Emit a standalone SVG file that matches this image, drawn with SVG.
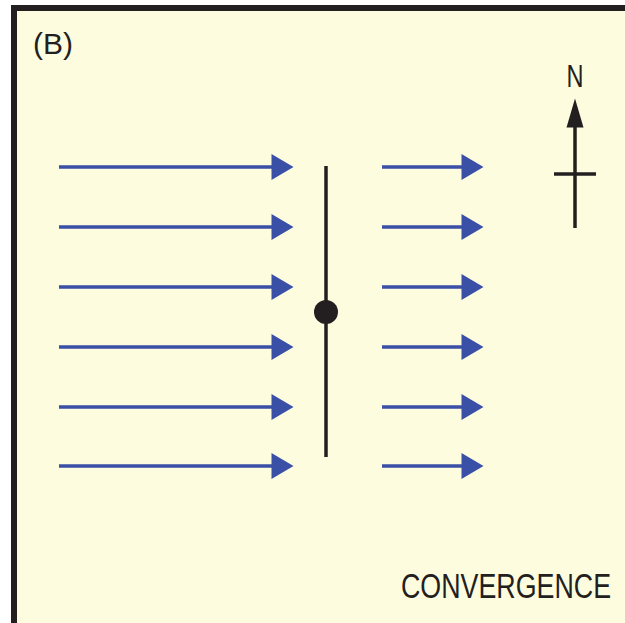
<svg xmlns="http://www.w3.org/2000/svg" width="625" height="623" viewBox="0 0 625 623">
<defs>
<style>
.flow{stroke:#3A4FA6;stroke-width:3.5;fill:none}
.blk{stroke:#231F20;stroke-width:3.5;fill:none}
.lbl{font-family:"Liberation Sans",Arial,sans-serif;fill:#231F20}
</style>
<marker id="ah" markerUnits="userSpaceOnUse" markerWidth="24" markerHeight="26" refX="0.5" refY="13" orient="auto" overflow="visible">
<path d="M0,0 L22,13 L0,26 Z" fill="#3A4FA6"/>
</marker>
<marker id="nh" markerUnits="userSpaceOnUse" markerWidth="30" markerHeight="18" refX="0.5" refY="8.5" orient="auto" overflow="visible">
<path d="M0,0 L29,8.5 L0,17 Z" fill="#231F20"/>
</marker>
</defs>
<rect x="14" y="8" width="640" height="640" fill="#FEFCDF" stroke="#231F20" stroke-width="6"/>
<text id="label-b" class="lbl" x="33" y="54" font-size="29" textLength="40" lengthAdjust="spacingAndGlyphs">(B)</text>
<g id="connectors">
<line class="flow" x1="59" y1="167" x2="272" y2="167" marker-end="url(#ah)"/>
<line class="flow" x1="59" y1="227" x2="272" y2="227" marker-end="url(#ah)"/>
<line class="flow" x1="59" y1="287" x2="272" y2="287" marker-end="url(#ah)"/>
<line class="flow" x1="59" y1="347" x2="272" y2="347" marker-end="url(#ah)"/>
<line class="flow" x1="59" y1="407" x2="272" y2="407" marker-end="url(#ah)"/>
<line class="flow" x1="59" y1="466" x2="272" y2="466" marker-end="url(#ah)"/>
<line class="flow" x1="382" y1="167" x2="462" y2="167" marker-end="url(#ah)"/>
<line class="flow" x1="382" y1="227" x2="462" y2="227" marker-end="url(#ah)"/>
<line class="flow" x1="382" y1="287" x2="462" y2="287" marker-end="url(#ah)"/>
<line class="flow" x1="382" y1="347" x2="462" y2="347" marker-end="url(#ah)"/>
<line class="flow" x1="382" y1="407" x2="462" y2="407" marker-end="url(#ah)"/>
<line class="flow" x1="382" y1="466" x2="462" y2="466" marker-end="url(#ah)"/>
</g>
<g id="boundary">
<line class="blk" x1="326" y1="166" x2="326" y2="457"/>
<circle cx="326" cy="312" r="12" fill="#231F20"/>
</g>
<g id="north">
<line class="blk" x1="575" y1="228" x2="575" y2="127" marker-end="url(#nh)"/>
<line class="blk" x1="554" y1="174" x2="596" y2="174"/>
<text class="lbl" x="575" y="87" font-size="32" text-anchor="middle" textLength="17" lengthAdjust="spacingAndGlyphs">N</text>
</g>
<text id="label-convergence" class="lbl" transform="translate(401,598) scale(0.745,1)" x="0" y="0" font-size="36">CONVERGENCE</text>
</svg>
